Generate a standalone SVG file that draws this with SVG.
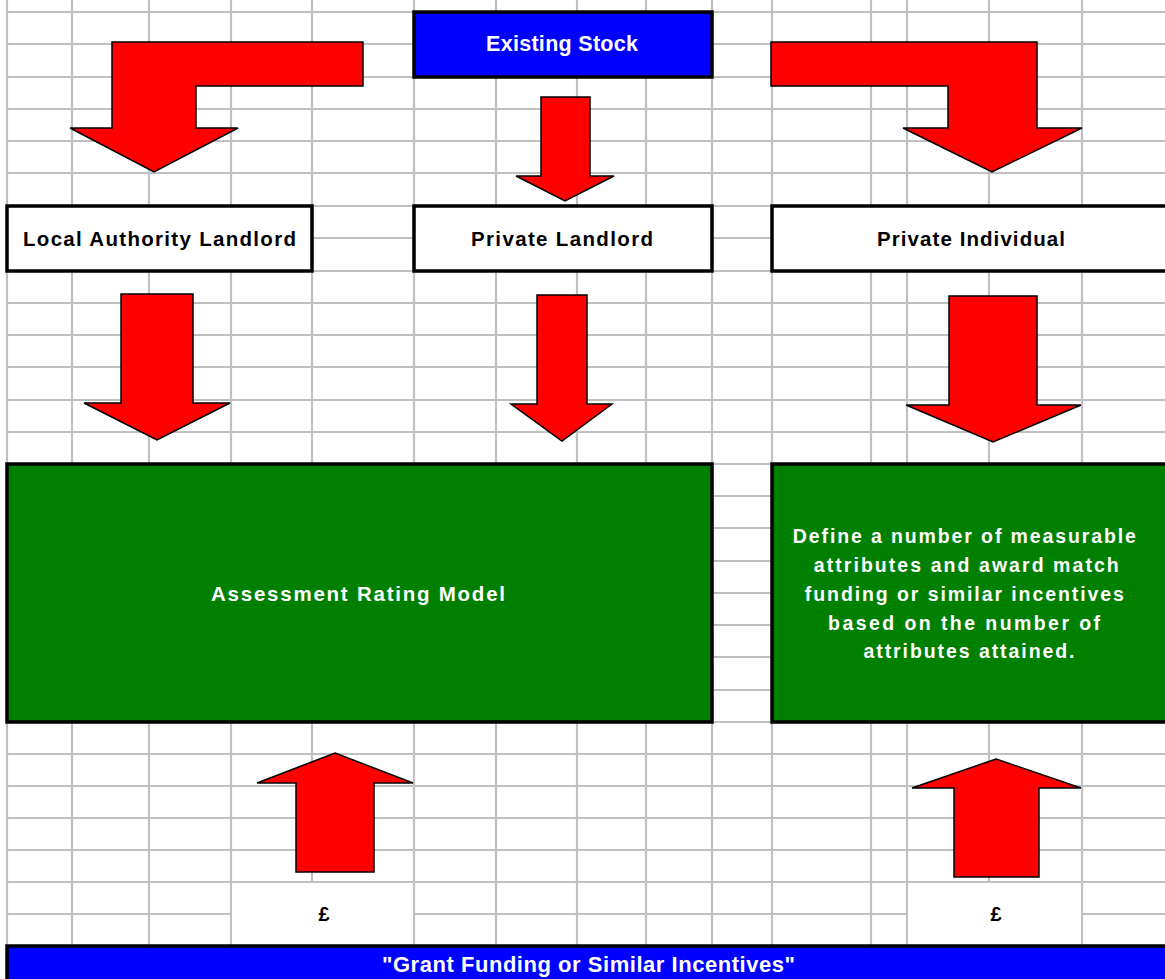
<svg xmlns="http://www.w3.org/2000/svg" width="1165" height="979" viewBox="0 0 1165 979">
<style>
.grid{stroke:#c0c0c0;stroke-width:2.2;fill:none}
.box{stroke:#000;stroke-width:3.5}
.blue{fill:#0000ff}
.green{fill:#008000}
.white{fill:#ffffff}
.arrow{fill:#ff0000;stroke:#000;stroke-width:1.5;stroke-linejoin:miter}
text{font-family:"Liberation Sans",Arial,sans-serif;font-weight:bold;text-anchor:middle}
.wt{fill:#ffffff}
.bt{fill:#000000}
</style>
<rect x="0" y="0" width="1165" height="979" fill="#ffffff"/>
<g id="grid" class="grid">
<path d="M7 0V979M72 0V979M149 0V979M231 0V979M312 0V882M312 946V979M414 0V979M496 0V979M577 0V979M646 0V979M712 0V979M772 0V979M871 0V979M907 0V979M989 0V882M989 946V979M1082 0V979"/>
<path d="M7 12H1165M7 44H1165M7 77H1165M7 109H1165M7 141H1165M7 173H1165M7 206H1165M7 238H1165M7 271H1165M7 303H1165M7 335H1165M7 367H1165M7 400H1165M7 432H1165M7 464H1165M7 496H1165M7 528H1165M7 561H1165M7 593H1165M7 625H1165M7 657H1165M7 690H1165M7 722H1165M7 754H1165M7 786H1165M7 818H1165M7 850H1165M7 882H1165M7 914H231M414 914H907M1082 914H1165M7 946H1165"/>
</g>
<rect x="232" y="883" width="181" height="62" fill="#ffffff"/>
<rect x="908" y="883" width="173" height="62" fill="#ffffff"/>
<g id="existing-stock">
<rect class="box blue" x="414" y="12" width="298" height="65"/>
<text class="wt" x="562" y="51" font-size="21.5" textLength="152" lengthAdjust="spacing">Existing Stock</text>
</g>
<g id="local-authority-landlord">
<rect class="box white" x="7" y="206" width="305" height="65"/>
<text class="bt" x="159.5" y="246" font-size="20.5" textLength="273" lengthAdjust="spacing">Local Authority Landlord</text>
</g>
<g id="private-landlord">
<rect class="box white" x="414" y="206" width="298" height="65"/>
<text class="bt" x="562" y="246" font-size="20.5" textLength="182" lengthAdjust="spacing">Private Landlord</text>
</g>
<g id="private-individual">
<rect class="box white" x="772" y="206" width="400" height="65"/>
<text class="bt" x="971" y="246" font-size="20.5" textLength="188" lengthAdjust="spacing">Private Individual</text>
</g>
<g id="assessment-rating-model">
<rect class="box green" x="7" y="464" width="705" height="258"/>
<text class="wt" x="358" y="601" font-size="20.5" textLength="294" lengthAdjust="spacing">Assessment Rating Model</text>
</g>
<g id="define-attributes">
<rect class="box green" x="772" y="464" width="400" height="258"/>
<text class="wt" font-size="19.5">
<tspan x="968" y="543" textLength="343" lengthAdjust="spacing">Define a number of measurable</tspan>
<tspan x="970" y="572" textLength="305" lengthAdjust="spacing">attributes and award match</tspan>
<tspan x="968" y="601" textLength="319" lengthAdjust="spacing">funding or similar incentives</tspan>
<tspan x="968" y="630" textLength="272" lengthAdjust="spacing">based on the number of</tspan>
<tspan x="969" y="658" textLength="211" lengthAdjust="spacing">attributes attained.</tspan>
</text>
</g>
<g id="pound-left">
<text class="bt" x="324" y="921" font-size="20">£</text>
</g>
<g id="pound-right">
<text class="bt" x="996" y="921" font-size="20">£</text>
</g>
<g id="grant-funding">
<rect class="box blue" x="7" y="946" width="1165" height="40"/>
<text class="wt" x="588.5" y="972" font-size="22" textLength="413" lengthAdjust="spacing">"Grant Funding or Similar Incentives"</text>
</g>
<g id="connectors">
<polygon class="arrow" points="112,42 363,42 363,86 196,86 196,128 238,128 154,172 70,128 112,128"/>
<polygon class="arrow" points="541,97 590,97 590,176 614,176 565,201 516,176 541,176"/>
<polygon class="arrow" points="771,42 1037,42 1037,128 1082,128 992,172 903,128 948,128 948,86 771,86"/>
<polygon class="arrow" points="121,294 193,294 193,403 230,403 157,440 84,403 121,403"/>
<polygon class="arrow" points="537,295 587,295 587,404 612,404 562,441 511,404 537,404"/>
<polygon class="arrow" points="949,296 1037,296 1037,405 1081,405 993,442 906,405 949,405"/>
<polygon class="arrow" points="335,753 413,783 374,783 374,872 296,872 296,783 257,783"/>
<polygon class="arrow" points="996,759 1081,788 1039,788 1039,877 954,877 954,788 912,788"/>
</g>
</svg>
